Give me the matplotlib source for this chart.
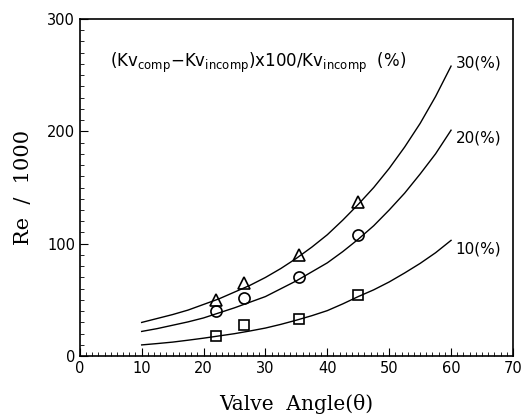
import matplotlib
matplotlib.use("Agg")
import matplotlib.pyplot as plt
from matplotlib.ticker import MultipleLocator

# Fitted curves read at 2.5-degree steps
curve_x = [10, 12.5, 15, 17.5, 20, 22.5, 25, 27.5, 30, 32.5, 35,
           37.5, 40, 42.5, 45, 47.5, 50, 52.5, 55, 57.5, 60]
curve_30 = [30, 33.5, 37, 41, 46, 51, 57, 63, 70, 78, 87,
            97, 108, 121, 135, 150, 167, 186, 207, 231, 258]
curve_20 = [22, 24.5, 27.5, 30.5, 34, 38.5, 43, 48, 53, 60, 67,
            75, 83, 93, 104, 116, 130, 145, 162, 180, 201]
curve_10 = [10, 11.2, 12.5, 14.2, 16, 18, 20, 22.4, 25, 28.3, 32,
            36, 40.5, 46.5, 53, 59, 66, 74, 82.5, 92, 103]

# Measured points
pts_x = [22, 26.5, 35.5, 45]
pts_30 = [50, 65, 90, 137]
pts_20 = [40, 52, 70, 108]
pts_10 = [18, 28, 33, 54]

curve_labels = ["30(%)", "20(%)", "10(%)"]

fig = plt.figure(figsize=(5.25, 4.2), dpi=100)
ax = fig.add_axes([0.152, 0.152, 0.825, 0.803])

for cy in (curve_30, curve_20, curve_10):
    ax.plot(curve_x, cy, color="black", lw=1.0)

ax.plot(pts_x, pts_30, linestyle="none", marker="^", mfc="none", mec="black", ms=8, mew=1.2)
ax.plot(pts_x, pts_20, linestyle="none", marker="o", mfc="none", mec="black", ms=8, mew=1.2)
ax.plot(pts_x, pts_10, linestyle="none", marker="s", mfc="none", mec="black", ms=7, mew=1.2)

label_dy = [3, -7, -8]
for lab, cy, dy in zip(curve_labels, (curve_30, curve_20, curve_10), label_dy):
    ax.text(curve_x[-1] + 0.7, cy[-1] + dy, lab, fontsize=11, va="center", ha="left")

ax.text(4.8, 261, r"(Kv$_{\rm comp}$$-$Kv$_{\rm incomp}$)x100/Kv$_{\rm incomp}$  (%)",
        fontsize=12, va="center", ha="left")

ax.set_xlim(0, 70)
ax.set_ylim(0, 300)
ax.xaxis.set_major_locator(MultipleLocator(10))
ax.xaxis.set_minor_locator(MultipleLocator(1))
ax.yaxis.set_major_locator(MultipleLocator(100))
ax.yaxis.set_minor_locator(MultipleLocator(10))
ax.tick_params(which="both", direction="in", top=False, right=False, labelsize=10.5)
ax.tick_params(which="major", length=6)
ax.tick_params(which="minor", length=3)
for s in ax.spines.values():
    s.set_linewidth(1.2)

ax.set_xlabel("Valve  Angle(\u03b8)", fontsize=14.5, family="DejaVu Serif", labelpad=13)
ax.set_ylabel("Re  /  1000", fontsize=15, family="DejaVu Serif", labelpad=10)

fig.savefig("out.png", dpi=100)
